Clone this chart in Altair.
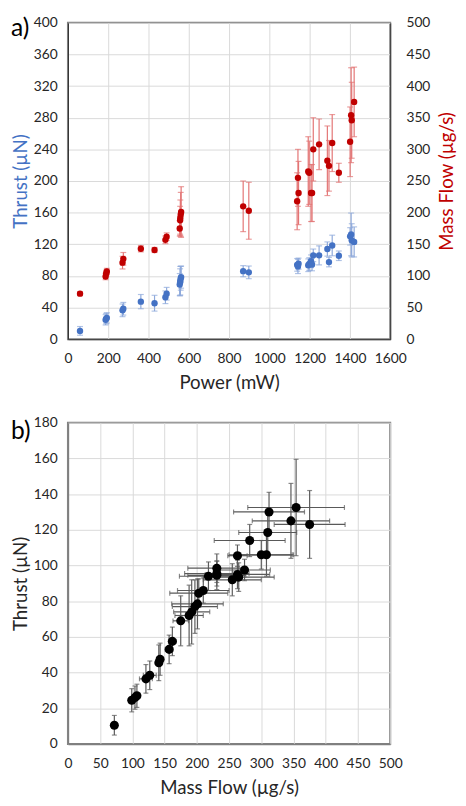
import altair as alt
import pandas as pd

# ---- data ----
power_mw = [60, 187, 190, 193, 271, 275, 362, 430, 484, 490,
            555, 557, 558, 560, 562, 870, 898, 1138, 1142, 1145,
            1193, 1198, 1207, 1212, 1218, 1247, 1288, 1296, 1312, 1345,
            1401, 1406, 1409, 1421]
thrust_un = [10.5, 24.5, 26, 27, 36.5, 38.5, 47.5, 45.5, 53, 57.5,
             69, 72, 74, 77, 78.5, 86, 84.5, 94, 92, 95.5,
             93.5, 95, 98.5, 94.5, 106, 106, 114, 97.5, 118.5, 105.5,
             130, 132.5, 125, 123]
thrust_err = [5.5, 6.5, 6.5, 6.5, 8, 8, 9, 10, 8, 8,
              14, 17, 18, 15, 14, 7, 8, 8, 9, 7,
              8, 8, 8, 8, 8, 12, 9, 6, 13, 6,
              11, 27, 21, 19]
massflow_ugs = [72, 99, 104, 107, 121, 127, 143, 141, 157, 162,
                175, 188, 192, 197, 201, 210, 203, 218, 255, 231,
                265, 263, 231, 231, 300, 308, 282, 274, 310, 263,
                312, 354, 346, 375]
massflow_err = [3, 5, 5, 5, 10, 10, 5, 4, 6, 6,
                12, 22, 28, 35, 40, 40, 45, 45, 45, 50,
                55, 50, 45, 45, 50, 40, 55, 40, 45, 15,
                55, 75, 60, 55]

power_ticks = list(range(0, 1601, 200))
thrust_ticks_a = list(range(0, 401, 40))
mf_ticks_a = list(range(0, 501, 50))
mf_ticks_b = list(range(0, 501, 50))
thrust_ticks_b = list(range(0, 181, 20))

df = pd.DataFrame({"P": power_mw, "T": thrust_un, "Te": thrust_err,
                   "MF": massflow_ugs, "MFe": massflow_err})
df["t_lo"] = df["T"] - df["Te"]
df["t_hi"] = df["T"] + df["Te"]
df["mf_lo"] = df["MF"] - df["MFe"]
df["mf_hi"] = df["MF"] + df["MFe"]

BLUE = "#4472C4"
BLUE_ERR = "#8EA9DB"
RED = "#C00000"
RED_ERR = "#E37474"
GRAY = "#595959"
FONT = "Lato"

base = alt.Chart(df)

common = dict(format="d", labelOverlap=False, labelFlush=False)

# ---------------- panel a ----------------
p_scale = alt.Scale(domain=[0, 1600], nice=False)
t_scale_a = alt.Scale(domain=[0, 400], nice=False)
mf_scale_a = alt.Scale(domain=[0, 500], nice=False)

ax_p = alt.Axis(values=power_ticks, title="Power (mW)", grid=True,
                domainColor="#262626", labelPadding=13, titlePadding=8, **common)
ax_t_a = alt.Axis(values=thrust_ticks_a, title="Thrust (µN)", titleColor=BLUE,
                  orient="left", grid=True, domainColor="#262626",
                  labelPadding=11, titlePadding=3, **common)
ax_mf_a = alt.Axis(values=mf_ticks_a, title="Mass Flow (µg/s)", titleColor=RED,
                   orient="right", grid=False, domainColor="#262626",
                   labelPadding=16, titlePadding=8, titleAngle=270,
                   titleBaseline="top", **common)

blue_err = base.mark_errorbar(ticks={"size": 6}, color=BLUE_ERR, thickness=1.2).encode(
    x=alt.X("P:Q", scale=p_scale, axis=ax_p),
    y=alt.Y("t_lo:Q", scale=t_scale_a, axis=ax_t_a, title="Thrust (µN)"),
    y2="t_hi:Q",
)
blue_pts = base.mark_circle(size=42, color=BLUE, opacity=1).encode(
    x=alt.X("P:Q", scale=p_scale, axis=ax_p),
    y=alt.Y("T:Q", scale=t_scale_a, axis=ax_t_a, title="Thrust (µN)"),
)
red_err = base.mark_errorbar(ticks={"size": 6}, color=RED_ERR, thickness=1.2).encode(
    x=alt.X("P:Q", scale=p_scale, axis=ax_p),
    y=alt.Y("mf_lo:Q", scale=mf_scale_a, axis=ax_mf_a, title="Mass Flow (µg/s)"),
    y2="mf_hi:Q",
)
red_pts = base.mark_circle(size=42, color=RED, opacity=1).encode(
    x=alt.X("P:Q", scale=p_scale, axis=ax_p),
    y=alt.Y("MF:Q", scale=mf_scale_a, axis=ax_mf_a, title="Mass Flow (µg/s)"),
)
label_a = alt.Chart(pd.DataFrame({"t": ["a)"]})).mark_text(
    fontSize=25, font=FONT, align="left", baseline="middle", color="#000000"
).encode(text="t:N", x=alt.value(-58), y=alt.value(5))

panel_a = alt.layer(
    alt.layer(blue_err, blue_pts),
    alt.layer(red_err, red_pts),
    label_a,
).resolve_scale(y="independent").properties(width=328, height=322)

# ---------------- panel b ----------------
mf_scale_b = alt.Scale(domain=[0, 500], nice=False)
t_scale_b = alt.Scale(domain=[0, 180], nice=False)

ax_mf_b = alt.Axis(values=mf_ticks_b, title="Mass Flow (µg/s)", grid=True,
                   domainColor="#7f7f7f", domainWidth=1.5,
                   labelPadding=13, titlePadding=8, **common)
ax_t_b = alt.Axis(values=thrust_ticks_b, title="Thrust (µN)", grid=True,
                  domainColor="#7f7f7f", domainWidth=1.5,
                  labelPadding=11, titlePadding=3, **common)

h_err = base.mark_errorbar(ticks={"size": 5}, color=GRAY, thickness=1.2).encode(
    y=alt.Y("T:Q", scale=t_scale_b, axis=ax_t_b, title="Thrust (µN)"),
    x=alt.X("mf_lo:Q", scale=mf_scale_b, axis=ax_mf_b, title="Mass Flow (µg/s)"),
    x2="mf_hi:Q",
)
v_err = base.mark_errorbar(ticks={"size": 5}, color=GRAY, thickness=1.2).encode(
    x=alt.X("MF:Q", scale=mf_scale_b, axis=ax_mf_b, title="Mass Flow (µg/s)"),
    y=alt.Y("t_lo:Q", scale=t_scale_b, axis=ax_t_b, title="Thrust (µN)"),
    y2="t_hi:Q",
)
pts_b = base.mark_circle(size=85, color="#000000", opacity=1).encode(
    x=alt.X("MF:Q", scale=mf_scale_b, axis=ax_mf_b, title="Mass Flow (µg/s)"),
    y=alt.Y("T:Q", scale=t_scale_b, axis=ax_t_b, title="Thrust (µN)"),
)
label_b = alt.Chart(pd.DataFrame({"t": ["b)"]})).mark_text(
    fontSize=25, font=FONT, align="left", baseline="middle", color="#000000"
).encode(text="t:N", x=alt.value(-58), y=alt.value(9))

panel_b = alt.layer(h_err, v_err, pts_b, label_b).properties(width=328, height=327)

chart = alt.vconcat(panel_a, panel_b, spacing=22).properties(
    padding={"left": 2, "top": 0, "right": 0, "bottom": 0}
).configure_axis(
    labelFont=FONT, titleFont=FONT, labelFontSize=14, titleFontSize=19,
    titleFontWeight="normal", labelColor="#262626", titleColor="#262626",
    gridColor="#D9D9D9", gridWidth=1, ticks=False, domainWidth=1,
).configure_view(
    stroke="#808080", strokeWidth=2
)

chart.save("out.html", embed_options={"renderer": "svg", "actions": False})
